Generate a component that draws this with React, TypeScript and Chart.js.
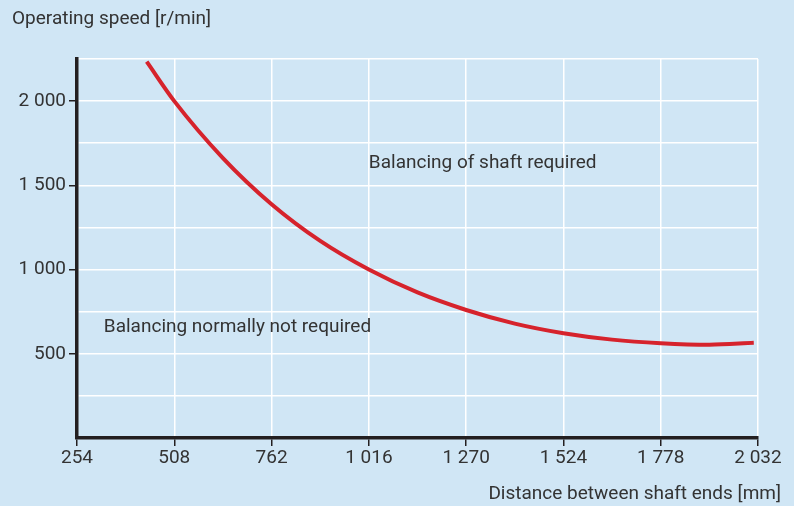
import React, { useEffect, useRef } from "react";
import { Chart, registerables } from "chart.js";

Chart.register(...registerables);

// Distance between shaft ends [mm]
const distanceValues = [436, 508, 635, 762, 889, 1016, 1143, 1270, 1397, 1524, 1651, 1778, 1905, 2021];
// Operating speed [r/min]
const speedValues = [2234, 2000, 1662, 1388, 1170, 1000, 864, 760, 679, 622, 584, 563, 554, 565];

const xTickMin = 254;
const xTickMax = 2032;
const xTickStep = 254;
const yMin = 0;
const yMax = 2250;
const yGridStep = 250;
const yLabelStep = 500;

const yAxisTitle = "Operating speed [r/min]";
const xAxisTitle = "Distance between shaft ends [mm]";
const annotationTexts = ["Balancing of shaft required", "Balancing normally not required"];
const annotationX = [1016, 324];
const annotationY = [1630, 660];

const BG = "#d0e6f5";
const TEXT = "#333333";
const AXIS = "#231f20";
const RED = "#d6232c";
const FONT = "Roboto, 'DejaVu Sans', sans-serif";
const FONT_SIZE = 19;

const fmt = (v: number) => {
  const s = Math.round(v).toString();
  return s.replace(/\B(?=(\d{3})+(?!\d))/g, " ");
};

const textPlugin = {
  id: "texts",
  beforeDraw(chart: any) {
    const { ctx } = chart;
    ctx.save();
    ctx.fillStyle = BG;
    ctx.fillRect(0, 0, chart.width, chart.height);
    ctx.restore();
  },
  afterDraw(chart: any) {
    const { ctx, chartArea, scales } = chart;
    ctx.save();
    ctx.fillStyle = TEXT;
    ctx.font = `${FONT_SIZE}px ${FONT}`;
    ctx.textBaseline = "middle";
    ctx.textAlign = "left";
    ctx.fillText(yAxisTitle, chartArea.left - 65, 19);
    ctx.textAlign = "right";
    ctx.fillText(xAxisTitle, chartArea.right + 23, 494);
    ctx.textAlign = "left";
    annotationTexts.forEach((t, i) => {
      ctx.fillText(t, scales.x.getPixelForValue(annotationX[i]), scales.y.getPixelForValue(annotationY[i]));
    });
    ctx.restore();
  },
};

export default function App() {
  const ref = useRef<HTMLCanvasElement | null>(null);
  useEffect(() => {
    if (!ref.current) return;
    const chart = new Chart(ref.current, {
      type: "line",
      data: {
        datasets: [
          {
            data: distanceValues.map((x, i) => ({ x, y: speedValues[i] })),
            borderColor: RED,
            borderWidth: 4,
            pointRadius: 0,
            cubicInterpolationMode: "monotone",
            fill: false,
          },
        ],
      },
      options: {
        responsive: false,
        animation: false,
        layout: { padding: { top: 59, right: 36, left: 0, bottom: 0 } },
        plugins: { legend: { display: false }, tooltip: { enabled: false } },
        scales: {
          x: {
            type: "linear",
            min: xTickMin,
            max: xTickMax,
            afterFit: (s: any) => {
              s.height = 68;
            },
            border: { display: true, color: AXIS, width: 3.5 },
            grid: {
              color: "#ffffff",
              lineWidth: 1.5,
              tickColor: AXIS,
              tickWidth: 1.5,
              tickLength: 8,
            },
            ticks: {
              stepSize: xTickStep,
              color: TEXT,
              font: { family: FONT, size: FONT_SIZE },
              padding: 1,
              maxRotation: 0,
              autoSkip: false,
              callback: (v: any) => fmt(Number(v)),
            },
          },
          y: {
            type: "linear",
            min: yMin,
            max: yMax,
            afterFit: (s: any) => {
              s.width = 77;
            },
            border: { display: true, color: AXIS, width: 3.5 },
            grid: {
              color: "#ffffff",
              lineWidth: 1.5,
              tickColor: (c: any) =>
                c.tick && c.tick.value > 0 && c.tick.value % yLabelStep === 0 ? AXIS : "rgba(0,0,0,0)",
              tickWidth: 1.5,
              tickLength: 8,
            },
            ticks: {
              stepSize: yGridStep,
              color: TEXT,
              font: { family: FONT, size: FONT_SIZE },
              padding: 3,
              autoSkip: false,
              callback: (v: any) => {
                const n = Number(v);
                return n > 0 && n % yLabelStep === 0 ? fmt(n) : "";
              },
            },
          },
        },
      },
      plugins: [textPlugin],
    } as any);
    return () => chart.destroy();
  }, []);
  return (
    <div style={{ position: "fixed", left: 0, top: 0, width: 794, height: 506, background: BG }}>
      <canvas ref={ref} width={794} height={506} />
    </div>
  );
}
